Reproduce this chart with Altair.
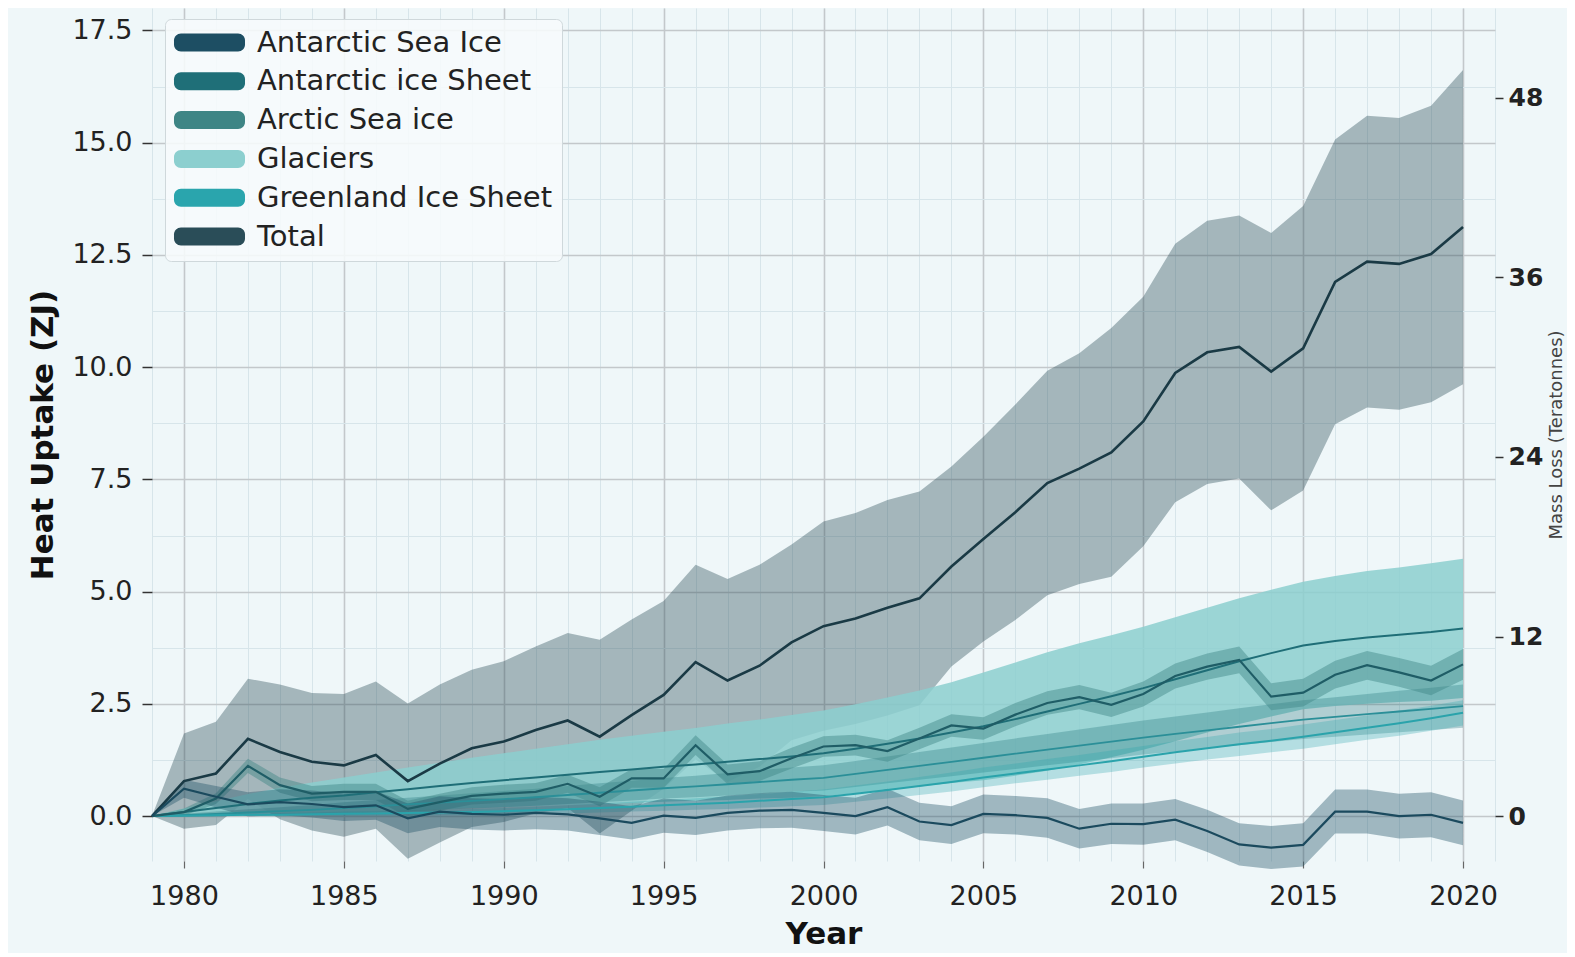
import altair as alt
import pandas as pd

# ---------------- data ----------------
years = list(range(1979, 2021))

series_names = ["Antarctic Sea Ice", "Antarctic ice Sheet", "Arctic Sea ice",
                "Glaciers", "Greenland Ice Sheet", "Total"]

total_value = [0.00, 0.78, 0.95, 1.72, 1.43, 1.21, 1.13, 1.36, 0.78, 1.17,
               1.51, 1.66, 1.92, 2.13, 1.77, 2.25, 2.70, 3.43, 3.02, 3.35,
               3.87, 4.23, 4.40, 4.64, 4.85, 5.56, 6.17, 6.77, 7.42, 7.74,
               8.10, 8.79, 9.87, 10.33, 10.45, 9.90, 10.42, 11.90, 12.35, 12.30,
               12.52, 13.12]
total_err = [0.00, 1.06, 1.15, 1.34, 1.50, 1.53, 1.59, 1.64, 1.73, 1.76,
             1.75, 1.79, 1.86, 1.95, 2.16, 2.13, 2.09, 2.17, 2.26, 2.25,
             2.18, 2.33, 2.35, 2.40, 2.38, 2.23, 2.28, 2.40, 2.50, 2.57,
             2.77, 2.78, 2.88, 2.93, 2.93, 3.09, 3.17, 3.17, 3.25, 3.25,
             3.30, 3.50]

asi_value = [0.00, 0.61, 0.43, 0.26, 0.31, 0.27, 0.20, 0.24, -0.05, 0.10,
             0.05, 0.03, 0.07, 0.04, -0.05, -0.15, 0.01, -0.04, 0.07, 0.12,
             0.14, 0.07, 0.00, 0.20, -0.12, -0.20, 0.05, 0.02, -0.04, -0.28,
             -0.17, -0.18, -0.08, -0.33, -0.63, -0.70, -0.64, 0.10, 0.10, 0.00,
             0.03, -0.15]
asi_err = [0.00, 0.20, 0.24, 0.27, 0.29, 0.30, 0.31, 0.32, 0.33, 0.34,
           0.35, 0.35, 0.36, 0.36, 0.37, 0.37, 0.38, 0.38, 0.39, 0.39,
           0.40, 0.40, 0.41, 0.41, 0.42, 0.42, 0.43, 0.43, 0.44, 0.44,
           0.45, 0.46, 0.46, 0.47, 0.47, 0.48, 0.48, 0.49, 0.49, 0.50,
           0.50, 0.50]

arc_value = [0.00, 0.09, 0.39, 1.12, 0.69, 0.50, 0.54, 0.54, 0.16, 0.31,
             0.45, 0.50, 0.54, 0.72, 0.43, 0.84, 0.84, 1.58, 0.93, 1.00,
             1.29, 1.55, 1.58, 1.45, 1.73, 2.02, 1.95, 2.26, 2.52, 2.65,
             2.48, 2.72, 3.12, 3.33, 3.48, 2.66, 2.75, 3.15, 3.36, 3.20,
             3.02, 3.38]
arc_err = [0.00, 0.08, 0.12, 0.16, 0.17, 0.17, 0.18, 0.18, 0.18, 0.19,
           0.19, 0.20, 0.20, 0.20, 0.21, 0.21, 0.21, 0.22, 0.22, 0.22,
           0.23, 0.23, 0.23, 0.24, 0.24, 0.25, 0.25, 0.26, 0.26, 0.27,
           0.27, 0.28, 0.28, 0.29, 0.30, 0.30, 0.31, 0.31, 0.32, 0.32,
           0.33, 0.34]

gla_value = [0.00, 0.09, 0.18, 0.27, 0.35, 0.41, 0.46, 0.53, 0.60, 0.67,
             0.74, 0.80, 0.86, 0.92, 0.98, 1.04, 1.10, 1.15, 1.21, 1.27,
             1.33, 1.40, 1.50, 1.61, 1.73, 1.86, 2.00, 2.16, 2.33, 2.50,
             2.67, 2.85, 3.05, 3.25, 3.45, 3.63, 3.80, 3.90, 3.98, 4.04,
             4.10, 4.18]
gla_err = [0.00, 0.08, 0.15, 0.22, 0.28, 0.34, 0.40, 0.44, 0.48, 0.52,
           0.56, 0.60, 0.64, 0.68, 0.72, 0.75, 0.78, 0.81, 0.85, 0.88,
           0.92, 0.95, 0.99, 1.03, 1.07, 1.12, 1.20, 1.26, 1.32, 1.35,
           1.36, 1.37, 1.38, 1.39, 1.40, 1.41, 1.42, 1.45, 1.48, 1.50,
           1.53, 1.55]

gre_value = [0.00, 0.01, 0.02, 0.03, 0.03, 0.04, 0.05, 0.06, 0.07, 0.08,
             0.09, 0.11, 0.13, 0.15, 0.18, 0.21, 0.24, 0.27, 0.30, 0.34,
             0.38, 0.42, 0.50, 0.58, 0.67, 0.76, 0.86, 0.95, 1.04, 1.13,
             1.22, 1.32, 1.42, 1.51, 1.60, 1.68, 1.77, 1.87, 1.97, 2.07,
             2.18, 2.30]
gre_err = [0.00, 0.02, 0.03, 0.03, 0.04, 0.04, 0.05, 0.05, 0.06, 0.06,
           0.07, 0.07, 0.08, 0.09, 0.10, 0.11, 0.12, 0.13, 0.14, 0.15,
           0.16, 0.17, 0.18, 0.19, 0.20, 0.21, 0.22, 0.22, 0.23, 0.23,
           0.24, 0.24, 0.25, 0.25, 0.26, 0.26, 0.27, 0.27, 0.27, 0.28,
           0.28, 0.28]

ais_value = [0.00, 0.02, 0.05, 0.08, 0.11, 0.14, 0.18, 0.22, 0.26, 0.30,
             0.34, 0.38, 0.42, 0.47, 0.52, 0.57, 0.62, 0.66, 0.71, 0.76,
             0.81, 0.85, 0.94, 1.03, 1.12, 1.21, 1.30, 1.39, 1.48, 1.57,
             1.66, 1.75, 1.83, 1.91, 1.99, 2.07, 2.15, 2.21, 2.27, 2.33,
             2.39, 2.45]
ais_err = [0.00, 0.03, 0.05, 0.07, 0.09, 0.11, 0.13, 0.14, 0.15, 0.16,
           0.17, 0.18, 0.19, 0.20, 0.21, 0.22, 0.23, 0.24, 0.25, 0.26,
           0.27, 0.28, 0.29, 0.30, 0.31, 0.32, 0.33, 0.34, 0.35, 0.36,
           0.37, 0.38, 0.39, 0.40, 0.41, 0.42, 0.43, 0.44, 0.45, 0.46,
           0.47, 0.48]

x_ticks = [1980, 1985, 1990, 1995, 2000, 2005, 2010, 2015, 2020]
y_ticks = [0.0, 2.5, 5.0, 7.5, 10.0, 12.5, 15.0, 17.5]
mass_ticks = [0, 12, 24, 36, 48]
minor_x = list(range(1979, 2022))
minor_y = [-1.25, 1.25, 3.75, 6.25, 8.75, 11.25, 13.75, 16.25]

# ---------------- styles ----------------
legend_colors = ["#1d4e63", "#1f6f78", "#3e8585", "#8ccfcf", "#2aa5ad", "#2a4d58"]
line_style = {"Antarctic Sea Ice": ("#1b4a5e", 2.2),
              "Antarctic ice Sheet": ("#2b8f98", 1.8),
              "Arctic Sea ice": ("#1f5d66", 2.2),
              "Glaciers": ("#1f6e77", 2.0),
              "Greenland Ice Sheet": ("#2aa3ab", 2.0),
              "Total": ("#1a3a45", 2.6)}
band_opacity = {"Total": 0.38, "Glaciers": 0.85, "Antarctic ice Sheet": 0.30,
                "Greenland Ice Sheet": 0.30, "Arctic Sea ice": 0.45,
                "Antarctic Sea Ice": 0.38}
BG = "#eff7f9"
FONT = "DejaVu Sans"

# ---------------- table ----------------
vals = {"Antarctic Sea Ice": (asi_value, asi_err),
        "Antarctic ice Sheet": (ais_value, ais_err),
        "Arctic Sea ice": (arc_value, arc_err),
        "Glaciers": (gla_value, gla_err),
        "Greenland Ice Sheet": (gre_value, gre_err),
        "Total": (total_value, total_err)}
draw_order = ["Total", "Glaciers", "Antarctic ice Sheet", "Greenland Ice Sheet",
              "Arctic Sea ice", "Antarctic Sea Ice"]
rows = []
for name in draw_order:
    v, e = vals[name]
    for yr, vv, ee in zip(years, v, e):
        rows.append({"year": yr, "series": name, "value": vv,
                     "lower": vv - ee, "upper": vv + ee})
df = pd.DataFrame(rows)

x_scale = alt.Scale(domain=[1979, 2021], nice=False, zero=False)
y_scale = alt.Scale(domain=[-1, 18], nice=False, zero=False)
fill_scale = alt.Scale(domain=series_names, range=legend_colors)

x_axis = alt.Axis(values=x_ticks, format="d", title="Year", grid=True,
                  gridColor="#c3c8cb", gridWidth=1.6, domain=False,
                  tickSize=7, tickColor="#666", tickWidth=1.2,
                  labelFontSize=27, labelPadding=15, labelFont=FONT, labelColor="#222",
                  titleFontSize=31, titleFontWeight="bold", titlePadding=10,
                  titleFont=FONT, titleColor="#111", orient="bottom")
y_axis = alt.Axis(values=y_ticks, format=".1f", title="Heat Uptake (ZJ)", grid=True,
                  gridColor="#c3c8cb", gridWidth=1.6, domain=False,
                  tickSize=10, tickColor="#333", tickWidth=1.5,
                  labelFontSize=27, labelPadding=10, labelFont=FONT, labelColor="#222",
                  titleFontSize=31, titleFontWeight="bold", titlePadding=12,
                  titleFont=FONT, titleColor="#111", orient="left")

pill = ("M-2.036,-0.643 L2.036,-0.643 A0.5,0.5 0 0 1 2.536,-0.143 L2.536,0.143 "
        "A0.5,0.5 0 0 1 2.036,0.643 L-2.036,0.643 A0.5,0.5 0 0 1 -2.536,0.143 "
        "L-2.536,-0.143 A0.5,0.5 0 0 1 -2.036,-0.643 Z")
legend = alt.Legend(title=None, orient="none", legendX=13, legendY=11,
                    symbolType=pill, symbolSize=784, symbolOffset=21,
                    symbolStrokeWidth=0, symbolStrokeColor="rgba(0,0,0,0)",
                    symbolOpacity=1,
                    labelOffset=33, labelFontSize=29, labelFont=FONT,
                    labelColor="#222", labelLimit=420, rowPadding=8.8,
                    padding=9, fillColor="rgba(247,251,252,0.88)",
                    strokeColor="#cfd8db", cornerRadius=6)

base = alt.Chart(df)

bands = []
for name in draw_order:
    bands.append(
        base.transform_filter(alt.datum.series == name)
        .mark_area(opacity=band_opacity[name])
        .encode(
            x=alt.X("year:Q", scale=x_scale, axis=x_axis),
            y=alt.Y("lower:Q", scale=y_scale, axis=y_axis),
            y2="upper:Q",
            fill=alt.Fill("series:N", scale=fill_scale, legend=legend),
        )
    )

lines = []
for name in draw_order:
    col, sw = line_style[name]
    lines.append(
        base.transform_filter(alt.datum.series == name)
        .mark_line(color=col, strokeWidth=sw)
        .encode(
            x=alt.X("year:Q", scale=x_scale, axis=x_axis),
            y=alt.Y("value:Q", scale=y_scale, axis=y_axis),
        )
    )
main = alt.layer(*bands, *lines)

minor = base.mark_point(opacity=0).encode(
    x=alt.X("year:Q", scale=x_scale,
            axis=alt.Axis(values=minor_x, grid=True, gridColor="#d7e5ea", gridWidth=1,
                          labels=False, ticks=False, domain=False, title=None,
                          orient="bottom", minExtent=0, maxExtent=0)),
    y=alt.Y("value:Q", scale=y_scale,
            axis=alt.Axis(values=minor_y, grid=True, gridColor="#d7e5ea", gridWidth=1,
                          labels=False, ticks=False, domain=False, title=None,
                          orient="left", minExtent=0, maxExtent=0)),
)

right = alt.Chart(pd.DataFrame({"mass": mass_ticks})).mark_point(opacity=0).encode(
    y=alt.Y("mass:Q", scale=alt.Scale(domain=[-3, 54], nice=False, zero=False),
            axis=alt.Axis(orient="right", values=mass_ticks, title="Mass Loss (Teratonnes)",
                          grid=False, domain=False, tickSize=8, tickColor="#333",
                          tickWidth=1.5, labelFontSize=25, labelFontWeight="bold",
                          labelPadding=5, labelFont=FONT, labelColor="#222",
                          titleFontSize=18, titleFontWeight="normal", titleFont=FONT,
                          titleColor="#444", titlePadding=23, titleAngle=270)),
)

chart = alt.layer(minor, main, right).resolve_scale(
    y="independent"
).resolve_axis(
    x="independent", y="independent"
).properties(
    width=1343, height=853,
    padding={"left": 144, "top": 0, "right": 72, "bottom": 92},
    autosize=alt.AutoSizeParams(type="none"),
    background=BG,
).configure_view(stroke=None, fill=BG)

chart.save("out.html", embed_options={"renderer": "svg", "actions": False})
